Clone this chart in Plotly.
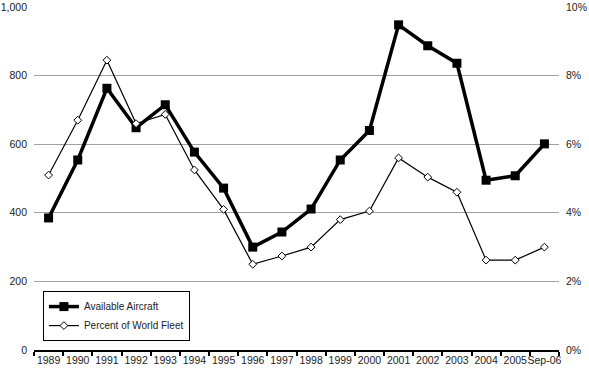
import plotly.graph_objects as go

categories = ["1989", "1990", "1991", "1992", "1993", "1994", "1995", "1996", "1997",
              "1998", "1999", "2000", "2001", "2002", "2003", "2004", "2005", "Sep-06"]
available_aircraft = [385, 554, 763, 648, 715, 577, 472, 300, 344,
                      411, 554, 640, 948, 887, 836, 495, 508, 601]
percent_world_fleet = [5.1, 6.7, 8.45, 6.6, 6.87, 5.25, 4.1, 2.5, 2.74,
                       3.0, 3.8, 4.05, 5.6, 5.04, 4.6, 2.62, 2.62, 3.0]

font = "Liberation Sans, Arial, sans-serif"

fig = go.Figure()
fig.add_trace(go.Scatter(
    x=categories, y=available_aircraft, name="Available Aircraft",
    mode="lines+markers",
    line=dict(color="black", width=3.5),
    marker=dict(symbol="square", size=9, color="black"),
    yaxis="y"))
fig.add_trace(go.Scatter(
    x=categories, y=percent_world_fleet, name="Percent of World Fleet",
    mode="lines+markers",
    line=dict(color="black", width=1.2),
    marker=dict(symbol="diamond", size=6, color="white", line=dict(color="black", width=1)),
    yaxis="y2"))

fig.update_layout(
    width=589, height=370,
    margin=dict(l=34, r=30, t=7, b=20, autoexpand=False),
    paper_bgcolor="white", plot_bgcolor="white",
    font=dict(family=font, size=10.5, color="#222"),
    showlegend=True,
    legend=dict(x=0.017, y=0.026, xanchor="left", yanchor="bottom",
                bordercolor="black", borderwidth=1, bgcolor="white",
                font=dict(size=10, family=font), tracegroupgap=0,
                itemwidth=30),
    xaxis=dict(type="category", showgrid=False, showline=True, linecolor="black",
               linewidth=1.5, ticks="outside", tickson="boundaries", ticklen=4,
               tickcolor="black", tickwidth=1.5, range=[-0.5, 17.5],
               tickangle=0, automargin=False, tickfont=dict(size=10.5),
               ticklabeloverflow="allow"),
    yaxis=dict(range=[0, 1000], dtick=200, tickformat=",d", showgrid=True,
               gridcolor="#a0a0a0", gridwidth=1, zeroline=False, showline=False,
               ticks="", ticklabelstandoff=6, automargin=False,
               ticklabeloverflow="allow"),
    yaxis2=dict(range=[0, 10], dtick=2, ticksuffix="%", overlaying="y", side="right",
                showgrid=False, zeroline=False, showline=False, ticks="",
                automargin=False, ticklabelstandoff=6, ticklabeloverflow="allow"),
)

# remove the default 8px page margin so the figure sits at the window's corner
fig.write_html("out.html", config={"displayModeBar": False},
               post_script="document.body.style.margin='0';")
